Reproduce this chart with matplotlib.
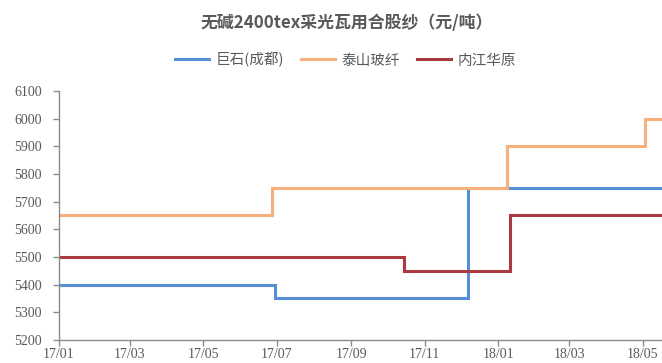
import matplotlib
matplotlib.use("Agg")
import matplotlib.pyplot as plt
import matplotlib.dates as mdates
import pandas as pd

# Price change points (date, yuan/ton); each price holds until the next date
jushi_dates = ["2017-01-01", "2017-06-30", "2017-12-07", "2018-05-17"]
jushi_prices = [5400, 5350, 5750, 5750]

taishan_dates = ["2017-01-01", "2017-06-27", "2018-01-08", "2018-05-03", "2018-05-17"]
taishan_prices = [5650, 5750, 5900, 6000, 6000]

neijiang_dates = ["2017-01-01", "2017-10-15", "2018-01-11", "2018-05-17"]
neijiang_prices = [5500, 5450, 5650, 5650]

series_names = ["巨石(成都)", "泰山玻纤", "内江华原"]
series_colors = ["#5590D6", "#F7B07C", "#AB3A40"]

x_ticks = ["2017-01-01", "2017-03-01", "2017-05-01", "2017-07-01", "2017-09-01",
           "2017-11-01", "2018-01-01", "2018-03-01", "2018-05-01"]
y_ticks = [5200, 5300, 5400, 5500, 5600, 5700, 5800, 5900, 6000, 6100]

title = "无碱2400tex采光瓦用合股纱（元/吨）"

cjk = ["Noto Sans CJK SC", "DejaVu Sans"]
serif = ["Liberation Serif", "DejaVu Serif"]
text_gray = "#595959"
axis_gray = "#8C8C8C"

fig = plt.figure(figsize=(6.62, 3.63), dpi=100)
ax = fig.add_axes([0.0887, 0.0634, 1.0 - 0.0887, 0.7493 - 0.0634])

data = [(jushi_dates, jushi_prices), (taishan_dates, taishan_prices),
        (neijiang_dates, neijiang_prices)]
handles = []
for (d, v), name, color in zip(data, series_names, series_colors):
    h, = ax.plot(pd.to_datetime(d), v, drawstyle="steps-post", color=color,
                 lw=2.2, label=name, solid_joinstyle="miter")
    handles.append(h)

ax.set_xlim(pd.Timestamp("2017-01-01"), pd.Timestamp("2018-05-17"))
ax.set_ylim(y_ticks[0], y_ticks[-1])
ax.set_yticks(y_ticks)
ax.set_xticks(pd.to_datetime(x_ticks))
ax.xaxis.set_major_formatter(mdates.DateFormatter("%y/%m"))

for side in ("top", "right"):
    ax.spines[side].set_visible(False)
for side in ("left", "bottom"):
    ax.spines[side].set_color(axis_gray)
    ax.spines[side].set_linewidth(1.0)

ax.tick_params(axis="both", direction="out", length=4, width=1.0,
               color=axis_gray, labelcolor=text_gray, labelsize=10)
ax.tick_params(axis="y", pad=8)
ax.tick_params(axis="x", pad=1.5)
for lab in ax.get_xticklabels() + ax.get_yticklabels():
    lab.set_fontfamily(serif)

fig.text(0.524, 1 - 22.7 / 363, title, ha="center", va="center",
         fontsize=12.2, fontweight="bold", color=text_gray, family=cjk)

leg = fig.legend(handles=handles, loc="center", bbox_to_anchor=(0.522, 1 - 60 / 363),
                 ncol=3, frameon=False, handlelength=2.3, handletextpad=0.45,
                 columnspacing=1.2, prop={"family": cjk, "size": 10.5})
for t in leg.get_texts():
    t.set_color(text_gray)

fig.savefig("out.png", dpi=100, facecolor="white")
